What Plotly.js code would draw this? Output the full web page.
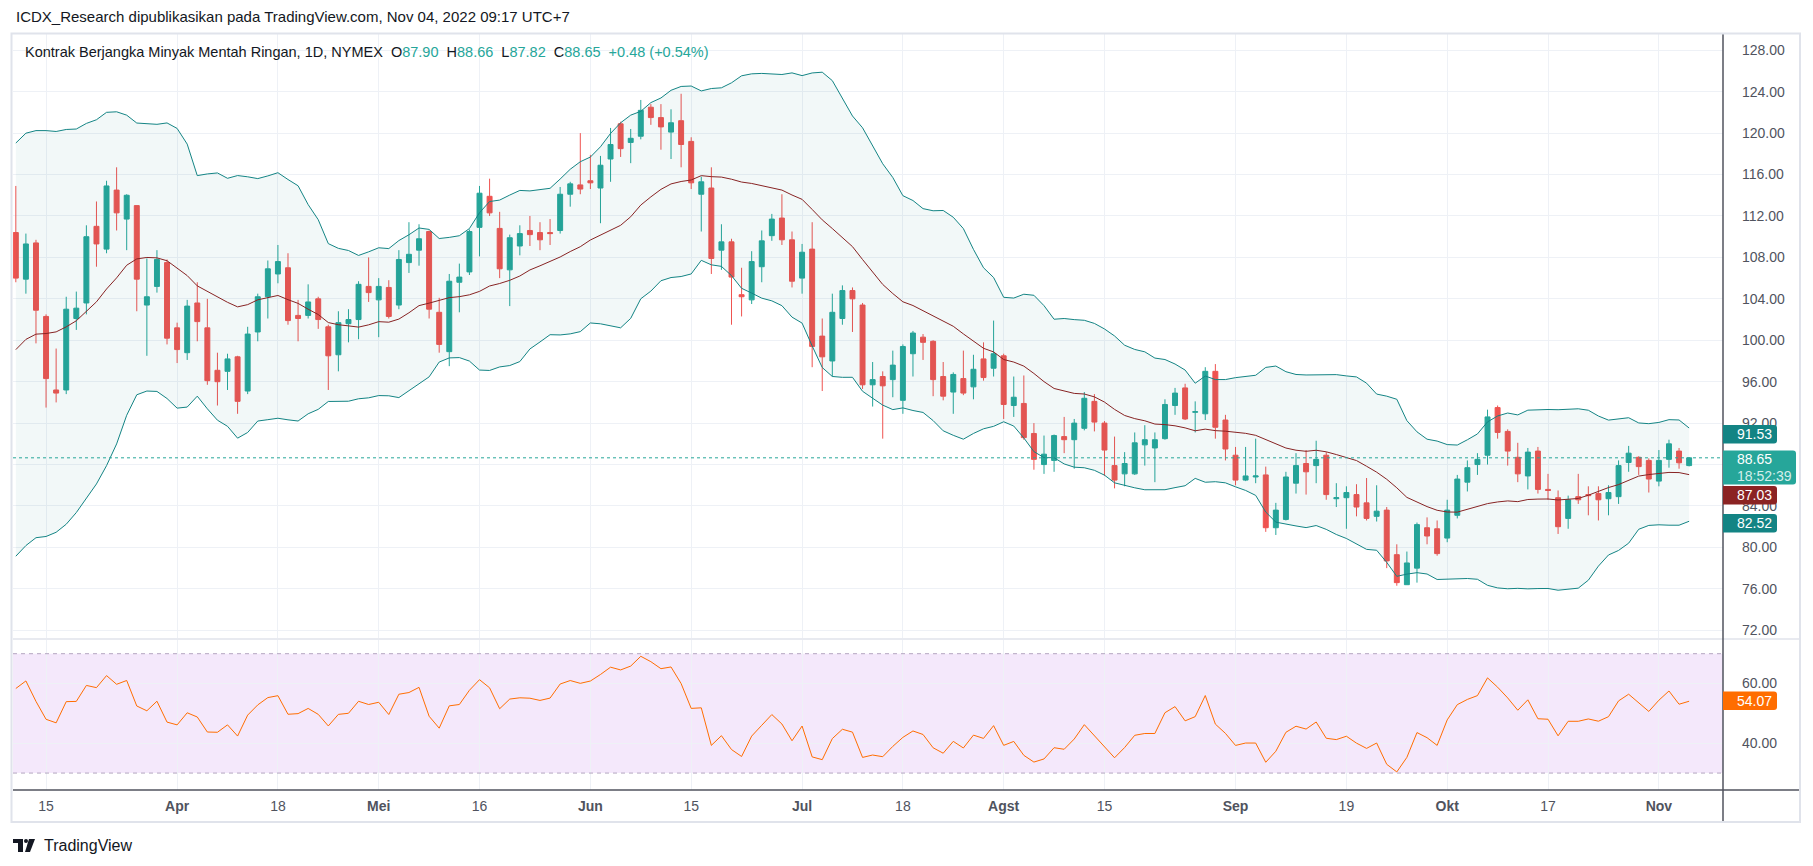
<!DOCTYPE html>
<html>
<head>
<meta charset="utf-8">
<script src="https://cdn.plot.ly/plotly-3.0.1.min.js"></script>
<style>
html,body{margin:0;padding:0;background:#ffffff;overflow:hidden;}
#chart{width:1813px;height:866px;}
</style>
</head>
<body>
<div id="chart"></div>
<script>
// ---- data ----
const dates = [
"2022-03-10","2022-03-11","2022-03-14","2022-03-15","2022-03-16","2022-03-17","2022-03-18","2022-03-21","2022-03-22","2022-03-23",
"2022-03-24","2022-03-25","2022-03-28","2022-03-29","2022-03-30","2022-03-31","2022-04-01","2022-04-04","2022-04-05","2022-04-06",
"2022-04-07","2022-04-08","2022-04-11","2022-04-12","2022-04-13","2022-04-14","2022-04-18","2022-04-19","2022-04-20","2022-04-21",
"2022-04-22","2022-04-25","2022-04-26","2022-04-27","2022-04-28","2022-04-29","2022-05-02","2022-05-03","2022-05-04","2022-05-05",
"2022-05-06","2022-05-09","2022-05-10","2022-05-11","2022-05-12","2022-05-13","2022-05-16","2022-05-17","2022-05-18","2022-05-19",
"2022-05-20","2022-05-23","2022-05-24","2022-05-25","2022-05-26","2022-05-27","2022-05-31","2022-06-01","2022-06-02","2022-06-03",
"2022-06-06","2022-06-07","2022-06-08","2022-06-09","2022-06-10","2022-06-13","2022-06-14","2022-06-15","2022-06-16","2022-06-17",
"2022-06-21","2022-06-22","2022-06-23","2022-06-24","2022-06-27","2022-06-28","2022-06-29","2022-06-30","2022-07-01","2022-07-05",
"2022-07-06","2022-07-07","2022-07-08","2022-07-11","2022-07-12","2022-07-13","2022-07-14","2022-07-15","2022-07-18","2022-07-19",
"2022-07-20","2022-07-21","2022-07-22","2022-07-25","2022-07-26","2022-07-27","2022-07-28","2022-07-29","2022-08-01","2022-08-02",
"2022-08-03","2022-08-04","2022-08-05","2022-08-08","2022-08-09","2022-08-10","2022-08-11","2022-08-12","2022-08-15","2022-08-16",
"2022-08-17","2022-08-18","2022-08-19","2022-08-22","2022-08-23","2022-08-24","2022-08-25","2022-08-26","2022-08-29","2022-08-30",
"2022-08-31","2022-09-01","2022-09-02","2022-09-06","2022-09-07","2022-09-08","2022-09-09","2022-09-12","2022-09-13","2022-09-14",
"2022-09-15","2022-09-16","2022-09-19","2022-09-20","2022-09-21","2022-09-22","2022-09-23","2022-09-26","2022-09-27","2022-09-28",
"2022-09-29","2022-09-30","2022-10-03","2022-10-04","2022-10-05","2022-10-06","2022-10-07","2022-10-10","2022-10-11","2022-10-12",
"2022-10-13","2022-10-14","2022-10-17","2022-10-18","2022-10-19","2022-10-20","2022-10-21","2022-10-24","2022-10-25","2022-10-26",
"2022-10-27","2022-10-28","2022-10-31","2022-11-01","2022-11-02","2022-11-03","2022-11-04"
];
const opens = [
110.4,105.9,109.4,102.3,95.2,95.2,102.1,103.6,111.0,108.8,
114.5,111.7,113.0,103.4,105.2,107.5,101.2,98.8,103.6,101.2,
97.1,97.0,98.4,95.1,100.8,104.2,106.4,107.0,102.4,102.4,
104.0,101.3,98.6,101.6,102.0,105.2,103.9,105.1,103.4,107.5,
108.7,110.5,102.7,98.9,105.6,106.6,110.9,113.9,110.8,106.8,
109.1,110.6,110.4,110.4,110.6,114.1,115.0,115.4,114.7,117.5,
120.9,119.1,119.7,122.5,121.5,120.1,121.2,119.2,114.1,114.7,
108.7,109.5,104.4,103.9,107.1,110.1,111.8,109.7,106.0,108.8,
100.4,98.0,102.1,104.8,103.4,95.7,96.5,96.2,94.2,98.7,
100.3,99.9,96.5,95.0,96.3,95.5,98.2,97.3,98.5,93.7,
93.9,91.0,88.0,88.4,90.7,90.4,91.5,94.1,92.0,87.9,
87.1,87.1,89.9,89.6,90.5,93.7,95.4,93.05,92.9,97.0,
92.3,88.9,86.5,86.8,87.0,81.9,82.7,86.2,88.1,87.9,
88.9,84.7,84.8,85.1,84.3,83.0,83.6,79.3,76.4,78.0,
81.9,81.8,80.9,83.1,86.3,88.0,88.9,93.5,91.2,88.7,
86.9,89.3,85.6,84.8,82.8,84.9,85.1,85.2,84.7,84.9,
88.2,88.7,88.4,86.4,88.5,89.3,87.90
];
const highs = [
114.9,110.3,109.7,102.5,99.2,104.2,104.7,111.1,113.4,115.4,
116.7,114.1,113.0,107.9,108.7,107.8,101.7,103.9,105.6,104.0,
98.8,98.7,98.5,101.3,104.5,107.7,109.2,108.4,103.9,105.4,
104.2,101.5,102.8,103.0,105.7,108.0,106.0,105.8,108.7,111.4,
111.2,110.6,104.1,106.4,107.4,110.7,114.9,115.6,112.4,110.2,
111.1,112.0,111.4,111.7,114.8,115.3,120.0,117.9,117.8,120.5,
121.1,120.4,123.2,122.8,122.8,122.3,123.8,119.6,115.8,116.7,
111.2,109.8,107.0,108.6,110.6,112.2,114.1,110.5,109.3,111.4,
102.1,104.5,105.3,105.1,103.6,97.9,97.0,99.0,99.6,100.9,
100.6,100.0,97.9,96.9,99.0,98.6,99.8,101.9,98.7,96.5,
96.6,92.0,90.8,90.9,92.6,92.4,95.0,94.8,92.2,90.7,
89.2,91.1,91.8,91.1,94.3,95.4,95.8,94.1,97.4,97.7,
92.8,89.7,89.7,90.5,87.8,84.3,87.3,89.1,89.4,90.3,
89.2,86.2,85.9,86.1,86.7,86.0,83.9,80.3,79.6,82.4,
82.9,82.6,84.6,87.0,88.4,89.1,93.3,93.7,91.4,90.1,
89.6,89.7,87.1,85.5,85.0,87.1,85.9,85.9,86.0,88.4,
89.8,88.8,88.6,89.4,90.4,89.6,88.66
];
const lows = [
105.6,104.5,99.7,93.5,94.0,94.8,101.0,102.5,107.1,108.4,
110.6,108.7,102.8,98.5,104.6,99.6,97.8,98.1,99.9,95.7,
93.7,95.2,92.9,94.8,99.9,102.1,105.5,101.5,99.9,102.1,
101.1,95.2,97.0,99.8,100.1,103.7,100.3,102.1,103.0,106.5,
107.2,102.1,98.8,97.5,102.7,106.3,108.1,112.0,106.0,103.3,
108.2,109.1,108.7,109.2,110.3,112.9,114.1,114.6,111.3,115.3,
117.7,117.1,119.4,120.8,118.4,117.5,116.7,114.6,110.5,106.4,
106.8,101.5,102.3,103.5,105.6,109.6,109.2,105.1,104.5,97.4,
95.1,96.5,101.5,100.8,95.3,93.6,90.5,94.5,92.9,96.5,
98.1,94.6,94.2,92.9,94.7,94.3,96.1,96.5,92.4,92.6,
90.4,87.5,87.1,87.3,89.1,87.6,91.3,91.2,86.9,85.7,
85.9,87.0,87.9,86.3,90.4,92.8,92.3,91.1,92.3,90.5,
88.4,86.0,86.4,86.2,81.5,81.2,82.6,85.2,85.1,86.2,
84.6,83.9,81.8,83.0,82.6,82.5,78.0,76.3,76.4,76.6,
80.3,79.2,80.5,82.8,85.4,87.0,88.0,90.5,87.9,86.3,
85.6,85.2,84.6,81.3,81.8,84.2,83.1,82.6,83.1,84.2,
87.3,87.0,85.3,85.9,87.7,87.6,87.82
];
const closes = [
106.0,109.3,102.9,96.3,94.9,103.0,103.1,110.0,109.3,114.9,
112.3,114.0,105.9,104.2,107.8,100.2,99.1,103.3,101.8,96.1,
96.0,98.2,94.1,100.6,104.2,106.9,107.6,101.9,102.1,103.7,
102.0,98.5,101.7,102.0,105.4,104.6,105.2,102.3,107.8,108.3,
109.8,103.0,99.6,105.7,106.1,110.5,114.2,112.3,106.9,109.9,
110.3,110.2,109.7,110.3,114.1,115.1,114.6,115.2,116.9,118.9,
118.5,119.5,122.2,121.5,120.6,121.0,118.9,115.2,115.3,107.9,
109.5,106.1,104.2,107.6,109.6,111.7,109.7,105.7,108.5,99.4,
98.4,102.7,104.8,104.0,95.7,96.2,95.6,97.6,99.4,100.7,
99.8,96.2,94.6,96.7,94.9,97.2,96.4,98.7,93.8,94.5,
90.6,88.5,89.0,90.8,90.4,92.0,94.4,92.1,89.4,86.5,
88.1,90.1,90.4,90.4,93.8,94.9,92.4,93.1,97.0,91.6,
89.5,86.5,86.9,86.9,81.9,83.6,86.8,87.9,87.3,88.5,
85.1,84.8,85.3,83.9,82.8,83.5,78.7,76.6,78.5,82.2,
81.1,79.4,83.6,86.6,87.7,88.5,92.6,91.1,89.3,87.1,
89.2,85.6,85.5,82.0,84.6,84.6,85.0,84.6,85.3,87.9,
89.1,87.8,86.6,88.4,90.0,88.17,88.65
];
// 19 sessions before the visible window (estimated so the left end of the bands matches the picture)
const priorCloses = [89.5,92.8,95.1,91.7,93.3,91.4,90.7,92.0,90.1,90.8,89.6,93.7,101.4,108.6,105.7,113.7,117.4,121.7,106.7];

const tickDates  = ["2022-03-15","2022-04-01","2022-04-18","2022-05-02","2022-05-16","2022-06-01","2022-06-15","2022-07-01",
                    "2022-07-18","2022-08-01","2022-08-15","2022-09-01","2022-09-19","2022-10-03","2022-10-17","2022-11-01"];
const tickLabels = ["15","<b>Apr</b>","18","<b>Mei</b>","16","<b>Jun</b>","15","<b>Jul</b>",
                    "18","<b>Agst</b>","15","<b>Sep</b>","19","<b>Okt</b>","17","<b>Nov</b>"];
const priceTicks = [72,76,80,84,88,92,96,100,104,108,112,116,120,124,128];
const hiddenPriceTicks = [88];   // covered by the last-price box in the reference
const rsiTicks = [40,60];

const headerText = "ICDX_Research dipublikasikan pada TradingView.com, Nov 04, 2022 09:17 UTC+7";
const symbolText = "Kontrak Berjangka Minyak Mentah Ringan, 1D, NYMEX";
const ohlcText = {o:"87.90", h:"88.66", l:"87.82", c:"88.65", chg:"+0.48 (+0.54%)"};
const bbLen = 20, bbMult = 2, rsiLen = 14;
const countdown = "18:52:39";

// ---- indicators (Bollinger 20,2 and RSI 14 from the closes) ----
const full = priorCloses.concat(closes);
const off = priorCloses.length;
const basis = [], upper = [], lower = [];
for (let i = off; i < full.length; i++) {
  const w = full.slice(i - bbLen + 1, i + 1);
  const m = w.reduce((a, b) => a + b, 0) / bbLen;
  const sd = Math.sqrt(w.reduce((a, b) => a + (b - m) * (b - m), 0) / bbLen);
  basis.push(m); upper.push(m + bbMult * sd); lower.push(m - bbMult * sd);
}
const rsiFull = new Array(full.length).fill(null);
let au = 0, ad = 0;
for (let i = 1; i < full.length; i++) {
  const ch = full[i] - full[i - 1];
  const u = Math.max(ch, 0), d = Math.max(-ch, 0);
  if (i <= rsiLen) { au += u / rsiLen; ad += d / rsiLen; }
  else { au = (au * (rsiLen - 1) + u) / rsiLen; ad = (ad * (rsiLen - 1) + d) / rsiLen; }
  if (i >= rsiLen) rsiFull[i] = ad === 0 ? 100 : (au === 0 ? 0 : 100 - 100 / (1 + au / ad));
}
const rsi = rsiFull.slice(off);

// ---- geometry helpers (page pixels -> paper) ----
const L = 13, R = 1723, T = 34, B = 790;
const PW = R - L, PH = B - T;
const xp = px => (px - L) / PW;
const yp = py => (B - py) / PH;
const sepY = 639;

const font = "Liberation Sans, Arial, sans-serif";
const txt = "#131722", axTxt = "#50535e";
const upC = "#26a69a", dnC = "#ef5350", bandC = "#138484", basisC = "#872323", rsiC = "#ff6d00";

const traces = [
  {type:"scatter", mode:"lines", x:dates, y:lower, xaxis:"x", yaxis:"y", line:{color:bandC, width:1}, hoverinfo:"skip"},
  {type:"scatter", mode:"lines", x:dates, y:upper, xaxis:"x", yaxis:"y", line:{color:bandC, width:1}, fill:"tonexty", fillcolor:"rgba(19,132,132,0.055)", hoverinfo:"skip"},
  {type:"scatter", mode:"lines", x:dates, y:basis, xaxis:"x", yaxis:"y", line:{color:basisC, width:1}, hoverinfo:"skip"},
  {type:"candlestick", x:dates, open:opens, high:highs, low:lows, close:closes, xaxis:"x", yaxis:"y",
   increasing:{line:{color:upC, width:1}, fillcolor:upC}, decreasing:{line:{color:dnC, width:1}, fillcolor:dnC},
   whiskerwidth:0, hoverinfo:"skip"},
  {type:"scatter", mode:"lines", x:dates, y:rsi, xaxis:"x", yaxis:"y2", line:{color:rsiC, width:1}, hoverinfo:"skip"}
];

const lastClose = closes[closes.length - 1];

// badge: background shape (slightly rounded right corners) + text annotation
function badgeShape(top, bottom, right, color) {
  const r = 3;
  const p = `M ${xp(R)} ${yp(top)} L ${xp(right - r)} ${yp(top)} Q ${xp(right)} ${yp(top)} ${xp(right)} ${yp(top + r)} ` +
            `L ${xp(right)} ${yp(bottom - r)} Q ${xp(right)} ${yp(bottom)} ${xp(right - r)} ${yp(bottom)} L ${xp(R)} ${yp(bottom)} Z`;
  return {type:"path", xref:"paper", yref:"paper", path:p, fillcolor:color, line:{width:0}, layer:"above"};
}
function badgeText(py, text, color) {
  return {xref:"paper", yref:"paper", x:xp(1735), y:yp(py), xanchor:"left", yanchor:"middle", showarrow:false,
          text:text, font:{family:font, size:14, color:color || "#ffffff"}};
}
const badges = [
  {top:425, bottom:443.5, right:1777, color:"#138484", lines:[[434, upper[upper.length - 1].toFixed(2)]]},
  {top:450.5, bottom:484.5, right:1796, color:upC, lines:[[459, lastClose.toFixed(2)], [475.5, countdown, "#d4eeeb"]]},
  {top:486, bottom:504.5, right:1777, color:"#8b2323", lines:[[495, basis[basis.length - 1].toFixed(2)]]},
  {top:514, bottom:532.5, right:1777, color:"#138484", lines:[[523, lower[lower.length - 1].toFixed(2)]]},
  {top:691.5, bottom:710, right:1777, color:rsiC, lines:[[700.7, rsi[rsi.length - 1].toFixed(2)]]}
];

const shapes = [
  {type:"rect", xref:"paper", yref:"y2", x0:0, x1:1, y0:30, y1:70, fillcolor:"#f4e8fb", line:{width:0}, layer:"below"},
  {type:"line", xref:"paper", yref:"y2", x0:0, x1:1, y0:70, y1:70, line:{color:"#b3a6c0", width:1, dash:"4px,4px"}},
  {type:"line", xref:"paper", yref:"y2", x0:0, x1:1, y0:30, y1:30, line:{color:"#b3a6c0", width:1, dash:"4px,4px"}},
  {type:"line", xref:"paper", yref:"y", x0:0, x1:1, y0:lastClose, y1:lastClose, line:{color:upC, width:1, dash:"dot"}},
  {type:"line", xref:"paper", yref:"paper", x0:xp(L), x1:xp(1800), y0:yp(sepY), y1:yp(sepY), line:{color:"#e0e3eb", width:1.5}},
  {type:"line", xref:"paper", yref:"paper", x0:xp(L), x1:xp(1800), y0:0, y1:0, line:{color:"#50535e", width:1.5}},
  {type:"line", xref:"paper", yref:"paper", x0:1, x1:1, y0:yp(822), y1:yp(33.5), line:{color:"#50535e", width:1.5}},
  {type:"rect", xref:"paper", yref:"paper", x0:xp(11.5), x1:xp(1800), y0:yp(822), y1:yp(33.5), line:{color:"#e0e3eb", width:2}},
  // TradingView logo mark
  {type:"rect", xref:"paper", yref:"paper", x0:xp(13), x1:xp(23), y0:yp(843), y1:yp(839), fillcolor:txt, line:{width:0}},
  {type:"rect", xref:"paper", yref:"paper", x0:xp(18), x1:xp(23), y0:yp(852), y1:yp(839), fillcolor:txt, line:{width:0}},
  {type:"circle", xref:"paper", yref:"paper", x0:xp(24), x1:xp(28), y0:yp(843), y1:yp(839), fillcolor:txt, line:{width:0}},
  {type:"path", xref:"paper", yref:"paper", fillcolor:txt, line:{width:0},
   path:`M ${xp(29)} ${yp(839)} L ${xp(35)} ${yp(839)} L ${xp(30)} ${yp(852)} L ${xp(25)} ${yp(852)} Z`}
].concat(badges.map(b => badgeShape(b.top, b.bottom, b.right, b.color)));

const sp = "&nbsp;&nbsp;";
const annotations = [
  {xref:"paper", yref:"paper", x:xp(14), y:yp(17), xanchor:"left", yanchor:"middle", showarrow:false,
   text:headerText, font:{family:font, size:15, color:txt}},
  {xref:"paper", yref:"paper", x:xp(23), y:yp(52), xanchor:"left", yanchor:"middle", showarrow:false,
   text: symbolText + sp + "O<span style='color:" + upC + "'>" + ohlcText.o + "</span>" + sp + "H<span style='color:" + upC + "'>" + ohlcText.h +
         "</span>" + sp + "L<span style='color:" + upC + "'>" + ohlcText.l + "</span>" + sp + "C<span style='color:" + upC + "'>" + ohlcText.c +
         "</span>" + sp + "<span style='color:" + upC + "'>" + ohlcText.chg + "</span>",
   font:{family:font, size:14.5, color:txt}},
  {xref:"paper", yref:"paper", x:xp(42), y:yp(845), xanchor:"left", yanchor:"middle", showarrow:false,
   text:"TradingView", font:{family:font, size:16, color:txt}}
];
badges.forEach(b => b.lines.forEach(l => annotations.push(badgeText(l[0], l[1], l[2]))));

const layout = {
  width:1813, height:866,
  margin:{l:L, r:1813 - R, t:T, b:866 - B, pad:0},
  paper_bgcolor:"#ffffff", plot_bgcolor:"#ffffff",
  showlegend:false, hovermode:false, dragmode:false, boxgap:0.3,
  font:{family:font, size:14, color:axTxt},
  xaxis:{type:"category", anchor:"y2", range:[-0.28, 169.36], tickmode:"array", tickvals:tickDates, ticktext:tickLabels,
         showgrid:true, gridcolor:"#eef1f6", gridwidth:1, zeroline:false, showline:false, ticks:"",
         tickfont:{family:font, size:14, color:axTxt}, ticklabelstandoff:6, rangeslider:{visible:false}, fixedrange:true},
  yaxis:{domain:[yp(sepY) + 0.001, 1], range:[71.23, 129.57], side:"right", anchor:"x", tickmode:"array",
         tickvals:priceTicks, ticktext:priceTicks.map(v => hiddenPriceTicks.includes(v) ? "" : v.toFixed(2)), showgrid:true, gridcolor:"#eef1f6",
         zeroline:false, showline:false, ticks:"", ticklabelstandoff:18, tickfont:{family:font, size:14, color:axTxt}, fixedrange:true},
  yaxis2:{domain:[0, yp(sepY) - 0.001], range:[24.33, 74.67], side:"right", anchor:"x", tickmode:"array",
         tickvals:rsiTicks, ticktext:rsiTicks.map(v => v.toFixed(2)), showgrid:true, gridcolor:"#eef1f6",
         zeroline:false, showline:false, ticks:"", ticklabelstandoff:18, tickfont:{family:font, size:14, color:axTxt}, fixedrange:true},
  shapes:shapes,
  annotations:annotations
};

Plotly.newPlot("chart", traces, layout, {staticPlot:true, displayModeBar:false});
</script>
</body>
</html>
